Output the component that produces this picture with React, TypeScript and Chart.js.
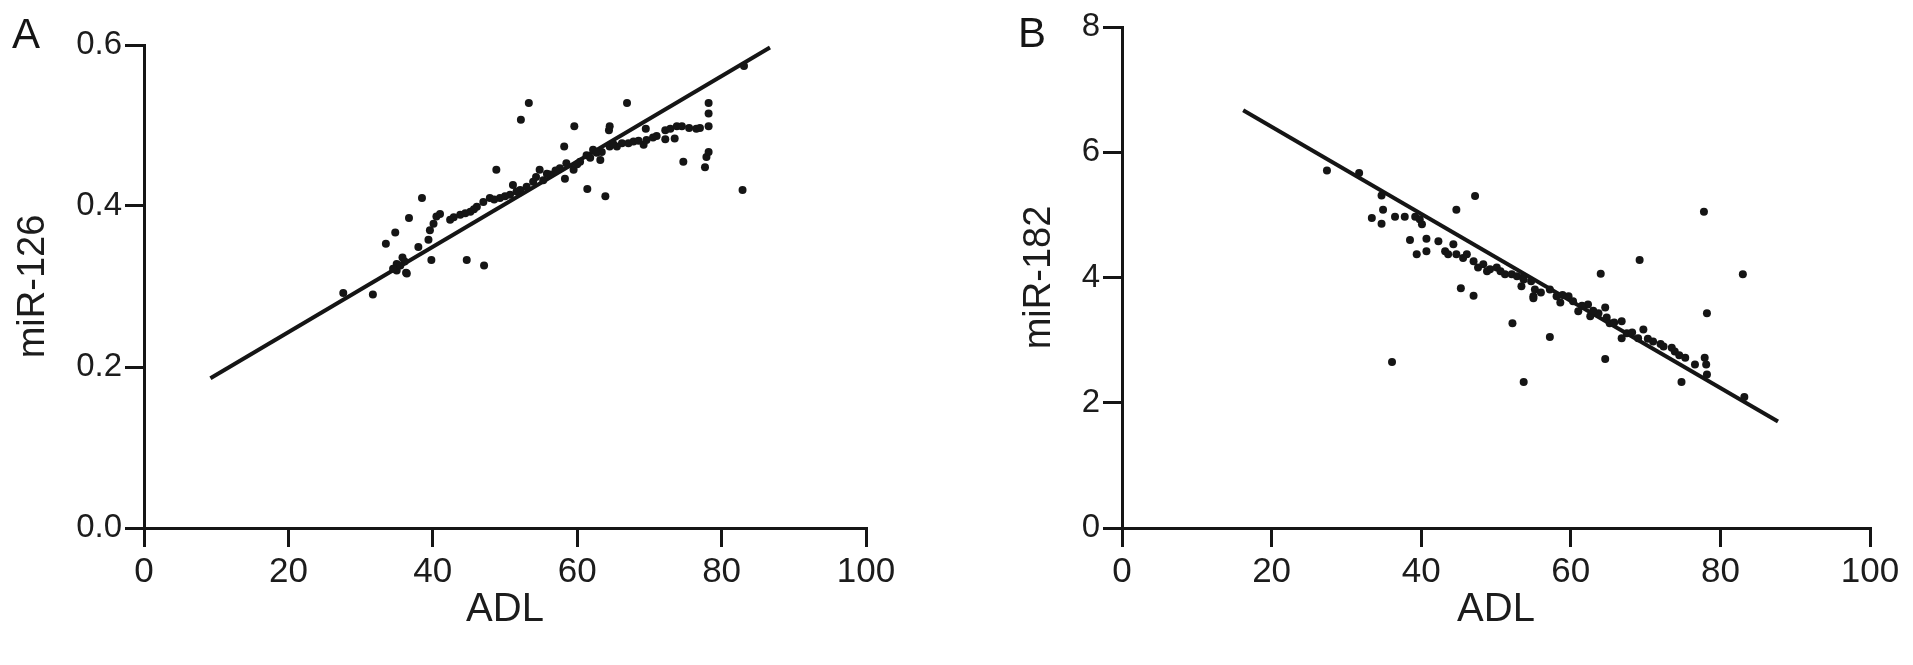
import React, { useEffect, useRef } from "react";
import { Chart, registerables } from "chart.js";

Chart.register(...registerables);

const FONT = "'Liberation Sans', Arial, Helvetica, sans-serif";
const INK = "#151515";

// Shared x axis
const ADL_TICKS = [0, 20, 40, 60, 80, 100];

// Panel A: miR-126 vs ADL
const A_Y_TICKS = [0, 0.2, 0.4, 0.6];
const A_ADL = [
  27.6, 31.7, 33.5, 34.8, 35.0, 35.0, 35.8, 36.3, 36.7, 36.1, 36.4, 38.0, 38.5, 39.4, 39.6, 39.8, 40.1, 40.5, 41.0,
  42.4, 43.8, 44.7, 45.2, 46.1, 47.0, 47.1, 47.9, 48.8, 49.3, 50.7, 51.1, 52.1, 52.2, 53.0, 53.3, 53.9, 54.8, 55.3,
  56.2, 57.6, 58.2, 58.3, 58.5, 59.5, 59.6, 60.4, 61.3, 61.4, 62.2, 63.2, 63.4, 63.9, 64.4, 64.5, 64.5, 65.5, 66.9,
  67.1, 67.8, 69.2, 69.5, 69.6, 70.5, 72.2, 72.2, 72.9, 73.5, 73.8, 74.5, 74.7, 76.5, 77.7, 77.9, 78.2, 78.2, 78.2,
  78.2, 82.9, 83.1, 42.9, 44.5, 45.7, 48.5, 50.0, 51.6, 54.3, 55.8, 57.0, 60.0, 61.8, 62.7, 65.0, 66.2, 68.5, 71.0,
  75.5, 77.0, 34.5, 35.5,
];
const A_MIR126 = [
  0.292, 0.290, 0.353, 0.367, 0.328, 0.320, 0.336, 0.317, 0.385, 0.331, 0.316, 0.349, 0.410, 0.358, 0.370, 0.333, 0.378, 0.387, 0.390,
  0.383, 0.389, 0.333, 0.393, 0.399, 0.405, 0.326, 0.410, 0.445, 0.410, 0.414, 0.426, 0.420, 0.507, 0.424, 0.528, 0.430, 0.445, 0.432,
  0.439, 0.447, 0.474, 0.434, 0.453, 0.445, 0.499, 0.455, 0.463, 0.421, 0.470, 0.457, 0.467, 0.412, 0.494, 0.499, 0.474, 0.474, 0.528,
  0.478, 0.480, 0.476, 0.496, 0.482, 0.485, 0.483, 0.494, 0.496, 0.484, 0.499, 0.499, 0.455, 0.496, 0.448, 0.461, 0.467, 0.499, 0.515,
  0.528, 0.420, 0.574, 0.386, 0.391, 0.396, 0.408, 0.412, 0.418, 0.436, 0.440, 0.444, 0.452, 0.460, 0.466, 0.477, 0.478, 0.481, 0.487,
  0.497, 0.497, 0.322, 0.326,
];
const A_FIT_X = [9.2, 86.7];
const A_FIT_Y = [0.186, 0.597];

// Panel B: miR-182 vs ADL
const B_Y_TICKS = [0, 2, 4, 6, 8];
const B_ADL = [
  27.4, 31.7, 34.7, 34.9, 33.4, 34.7, 36.5, 37.8, 39.2, 39.8, 40.1, 38.5, 40.7, 39.4, 40.7, 42.3, 44.7, 47.2, 43.2,
  43.6, 44.3, 44.7, 45.6, 46.1, 47.0, 47.6, 48.3, 49.2, 50.1, 51.2, 52.1, 52.8, 53.6, 53.4, 54.7, 55.0, 45.3, 47.0,
  52.2, 36.1, 53.7, 53.7, 55.0, 55.2, 57.2, 58.1, 58.6, 59.7, 60.3, 61.0, 62.3, 62.6, 63.7, 64.6, 64.8, 65.2, 66.8,
  66.8, 67.5, 69.7, 69.0, 71.0, 72.4, 73.5, 73.9, 75.3, 76.6, 77.9, 78.1, 78.2, 69.2, 64.0, 83.0, 78.2, 57.2, 64.6,
  74.8, 77.8, 83.2, 48.8, 50.6, 56.0, 58.9, 61.5, 63.0, 65.8, 68.2, 70.3, 72.0, 74.5,
];
const B_MIR182 = [
  5.71, 5.67, 5.31, 5.08, 4.95, 4.86, 4.97, 4.97, 4.97, 4.93, 4.85, 4.60, 4.62, 4.37, 4.42, 4.58, 5.08, 5.30, 4.42,
  4.37, 4.53, 4.37, 4.31, 4.37, 4.26, 4.16, 4.21, 4.13, 4.16, 4.05, 4.05, 4.02, 4.00, 3.86, 3.94, 3.70, 3.83, 3.71,
  3.27, 2.65, 2.33, 3.97, 3.67, 3.81, 3.81, 3.70, 3.60, 3.70, 3.62, 3.46, 3.57, 3.38, 3.43, 3.52, 3.36, 3.27, 3.30,
  3.03, 3.11, 3.17, 3.03, 2.98, 2.90, 2.88, 2.82, 2.72, 2.61, 2.72, 2.61, 2.45, 4.28, 4.06, 4.05, 3.43, 3.05, 2.70,
  2.33, 5.05, 2.09, 4.10, 4.10, 3.76, 3.72, 3.55, 3.47, 3.28, 3.12, 3.02, 2.94, 2.76,
];
const B_FIT_X = [16.2, 87.7];
const B_FIT_Y = [6.67, 1.7];

type PanelProps = {
  left: number;
  width: number;
  rightPad: number;
  letter: string;
  letterX: number;
  letterY: number;
  yTitle: string;
  yTitlePad: number;
  yAxisWidth: number;
  top: number;
  xs: number[];
  ys: number[];
  fitX: number[];
  fitY: number[];
  yTicks: number[];
  yDecimals: number;
};

function Panel(p: PanelProps) {
  const ref = useRef<HTMLCanvasElement | null>(null);
  useEffect(() => {
    const canvas = ref.current;
    if (!canvas) return;
    const pts = p.xs.map((x, i) => ({ x, y: p.ys[i] }));
    const fit = p.fitX.map((x, i) => ({ x, y: p.fitY[i] }));
    const letterPlugin = {
      id: "panelLetter",
      afterDraw(chart: any) {
        const ctx = chart.ctx;
        ctx.save();
        ctx.font = `42px ${FONT}`;
        ctx.fillStyle = INK;
        ctx.textBaseline = "alphabetic";
        ctx.textAlign = "left";
        ctx.fillText(p.letter, p.letterX, p.letterY);
        ctx.restore();
      },
    };
    const yMin = p.yTicks[0];
    const yMax = p.yTicks[p.yTicks.length - 1];
    const chart = new Chart(canvas, {
      type: "scatter",
      data: {
        datasets: [
          {
            data: pts,
            pointRadius: 4,
            pointBackgroundColor: INK,
            pointBorderWidth: 0,
            showLine: false,
          },
          {
            data: fit,
            showLine: true,
            pointRadius: 0,
            borderColor: INK,
            borderWidth: 4,
            fill: false,
          },
        ],
      },
      options: {
        animation: false,
        responsive: false,
        maintainAspectRatio: false,
        events: [],
        layout: { padding: { left: 0, top: p.top, right: p.rightPad, bottom: 0 } },
        plugins: { legend: { display: false }, tooltip: { enabled: false } },
        scales: {
          x: {
            type: "linear",
            min: 0,
            max: 100,
            afterBuildTicks: (s: any) => {
              s.ticks = ADL_TICKS.map((v) => ({ value: v }));
            },
            afterFit: (s: any) => {
              s.height = 137;
            },
            grid: {
              display: true,
              drawOnChartArea: false,
              drawTicks: true,
              tickLength: 19,
              lineWidth: 3,
              color: INK,
            },
            border: { display: true, width: 3, color: INK },
            ticks: {
              font: { size: 35, family: FONT },
              color: "#1c1c1c",
              padding: 4,
              maxRotation: 0,
              autoSkip: false,
              callback: (v: any) => String(v),
            },
            title: {
              display: true,
              text: "ADL",
              font: { size: 40, family: FONT },
              color: "#1c1c1c",
              padding: { top: 0, bottom: 31 },
            },
          },
          y: {
            type: "linear",
            min: yMin,
            max: yMax,
            afterBuildTicks: (s: any) => {
              s.ticks = p.yTicks.map((v) => ({ value: v }));
            },
            afterFit: (s: any) => {
              s.width = p.yAxisWidth;
            },
            grid: {
              display: true,
              drawOnChartArea: false,
              drawTicks: true,
              tickLength: 19,
              lineWidth: 3,
              color: INK,
            },
            border: { display: true, width: 3, color: INK },
            ticks: {
              font: { size: 33, family: FONT },
              color: "#1c1c1c",
              padding: 3,
              autoSkip: false,
              callback: (v: any) => Number(v).toFixed(p.yDecimals),
            },
            title: {
              display: true,
              text: p.yTitle,
              font: { size: 38, family: FONT },
              color: "#1c1c1c",
              padding: { top: p.yTitlePad, bottom: 0 },
            },
          },
        },
      },
      plugins: [letterPlugin],
    } as any);
    return () => chart.destroy();
  }, []);
  return (
    <canvas
      ref={ref}
      width={p.width}
      height={665}
      style={{ position: "absolute", left: p.left, top: 0, width: p.width, height: 665 }}
    />
  );
}

export default function App() {
  return (
    <div style={{ position: "fixed", left: 0, top: 0, width: 1913, height: 665, background: "#fff", overflow: "hidden" }}>
      <Panel
        left={0}
        width={960}
        rightPad={94}
        letter="A"
        letterX={12}
        letterY={48}
        yTitle="miR-126"
        yTitlePad={11}
        yAxisWidth={144}
        top={45}
        xs={A_ADL}
        ys={A_MIR126}
        fitX={A_FIT_X}
        fitY={A_FIT_Y}
        yTicks={A_Y_TICKS}
        yDecimals={1}
      />
      <Panel
        left={1000}
        width={913}
        rightPad={43}
        letter="B"
        letterX={18}
        letterY={47}
        yTitle="miR-182"
        yTitlePad={17}
        yAxisWidth={122}
        top={27}
        xs={B_ADL}
        ys={B_MIR182}
        fitX={B_FIT_X}
        fitY={B_FIT_Y}
        yTicks={B_Y_TICKS}
        yDecimals={0}
      />
    </div>
  );
}
